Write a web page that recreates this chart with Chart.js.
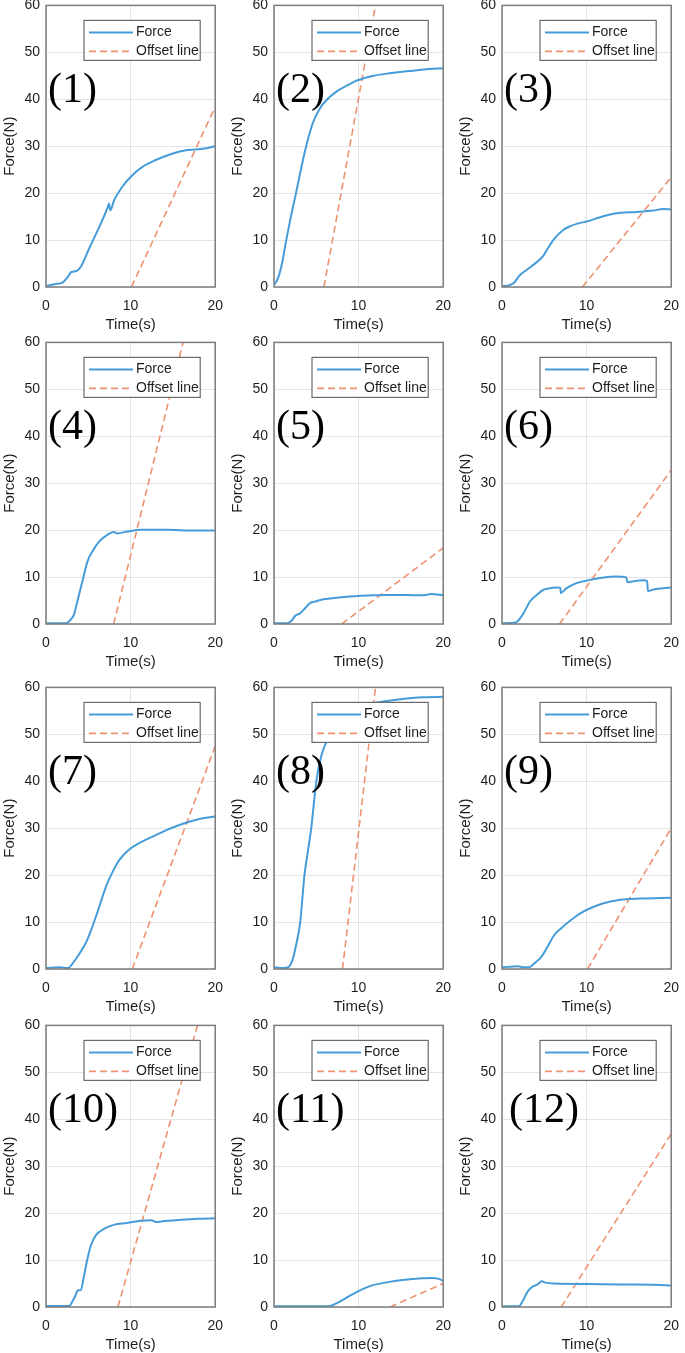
<!DOCTYPE html>
<html>
<head>
<meta charset="utf-8">
<title>Force vs time</title>
<script src="https://cdn.jsdelivr.net/npm/chart.js@4.4.0/dist/chart.umd.min.js"></script>
<style>
  body { margin: 0; background: #fff; width: 685px; height: 1353px; overflow: hidden; position: relative; }
  canvas { position: absolute; }
</style>
</head>
<body>
<script>
'use strict';

// ---- data ----
let seriesNames = ['Force', 'Offset line'];
let panelTags = ['(1)', '(2)', '(3)', '(4)', '(5)', '(6)', '(7)', '(8)', '(9)', '(10)', '(11)', '(12)'];
let xTicks = [0, 10, 20];
let yTicks = [0, 10, 20, 30, 40, 50, 60];

let time1 = [0, 1, 2, 2.6, 3.0, 3.6, 4.2, 5.1, 6.3, 7.3, 7.45, 7.6, 8.05, 9.0, 10.2, 11.4, 12.9, 14.9, 16.4, 17.6, 18.8, 20];
let force1 = [0.2, 0.6, 1.0, 2.2, 3.2, 3.4, 4.6, 8.2, 12.8, 17.0, 17.8, 16.3, 18.5, 21.3, 23.8, 25.6, 27.0, 28.4, 29.1, 29.3, 29.5, 30.0];

let time2 = [0, 0.5, 1.0, 1.45, 2.0, 2.6, 3.2, 3.8, 4.6, 5.4, 6.3, 7.5, 8.7, 9.8, 11.5, 13.5, 16.0, 18.0, 20];
let force2 = [0.4, 2.0, 5.5, 10.0, 15.0, 20.0, 25.2, 30.0, 35.0, 38.0, 40.0, 41.8, 43.0, 44.0, 44.9, 45.5, 46.0, 46.4, 46.6];

let time3 = [0, 0.8, 1.4, 2.1, 3.1, 4.1, 4.9, 5.4, 6.2, 7.2, 8.0, 8.9, 10.1, 11.3, 12.4, 14.0, 15.9, 17.9, 19.0, 20];
let force3 = [0.2, 0.35, 0.85, 2.5, 3.9, 5.3, 6.7, 8.2, 10.3, 12.1, 12.9, 13.5, 14.0, 14.7, 15.3, 15.8, 16.0, 16.3, 16.6, 16.5];

let time4 = [0, 2.35, 2.9, 3.3, 3.7, 4.3, 4.9, 5.5, 6.3, 7.25, 8.0, 8.4, 9.6, 11.2, 14.3, 17.5, 20];
let force4 = [0.15, 0.15, 0.9, 2.0, 4.8, 9.1, 13.3, 15.5, 17.6, 19.0, 19.6, 19.3, 19.7, 20.1, 20.1, 19.9, 19.9];

let time5 = [0, 1.4, 2.0, 2.55, 3.1, 3.7, 4.3, 4.9, 5.7, 6.9, 8.0, 9.6, 11.6, 13.5, 15.5, 17.5, 18.6, 20];
let force5 = [0.15, 0.15, 0.6, 1.8, 2.3, 3.4, 4.5, 4.8, 5.2, 5.5, 5.7, 5.9, 6.1, 6.2, 6.2, 6.1, 6.4, 6.1];

let time6 = [0, 1.6, 2.0, 2.55, 3.3, 4.1, 4.9, 5.3, 6.5, 6.9, 6.95, 7.6, 8.8, 10.4, 12.0, 13.5, 14.7, 14.8, 15.9, 16.7, 17.15, 17.25, 17.8, 20];
let force6 = [0.15, 0.3, 0.9, 2.3, 4.8, 6.2, 7.3, 7.5, 7.8, 7.7, 6.6, 7.6, 8.7, 9.4, 9.9, 10.1, 9.9, 8.9, 9.2, 9.3, 9.2, 7.0, 7.3, 7.8];

let time7 = [0, 1.6, 2.6, 3.2, 4.0, 4.8, 5.5, 6.3, 7.1, 7.9, 8.7, 9.8, 11.0, 12.6, 14.1, 16.1, 18.0, 20];
let force7 = [0.2, 0.35, 0.2, 1.3, 3.4, 5.9, 9.1, 13.3, 17.6, 20.8, 23.3, 25.4, 26.8, 28.2, 29.5, 30.9, 31.9, 32.5];

let time8 = [0, 1.05, 1.7, 2.2, 2.6, 3.1, 3.6, 4.0, 4.4, 5.0, 5.6, 6.5, 7.5, 9.0, 10.5, 12.6, 14.9, 17.5, 20];
let force8 = [0.4, 0.2, 0.4, 2.0, 5.0, 10.0, 20.0, 25.0, 30.0, 40.0, 45.5, 49.5, 52.0, 54.5, 56.0, 56.9, 57.5, 57.9, 58.0];

let time9 = [0, 1.9, 2.5, 3.1, 3.9, 4.7, 5.4, 6.2, 7.0, 8.2, 9.3, 10.5, 12.0, 14.0, 16.3, 20];
let force9 = [0.35, 0.6, 0.35, 0.35, 1.3, 2.7, 4.8, 7.3, 8.7, 10.5, 11.9, 13.0, 14.0, 14.75, 15.0, 15.2];

let time10 = [0, 2.75, 3.1, 3.5, 3.75, 4.1, 4.5, 4.9, 5.3, 5.9, 6.9, 8.0, 9.6, 11.2, 12.5, 13.0, 14.0, 16.0, 18.0, 20];
let force10 = [0.2, 0.2, 1.1, 2.5, 3.55, 3.6, 6.7, 10.3, 13.1, 15.3, 16.7, 17.5, 17.9, 18.4, 18.5, 18.1, 18.3, 18.6, 18.8, 18.9];

let time11 = [0, 6.5, 7.3, 8.4, 10.0, 11.6, 13.5, 15.5, 17.5, 18.7, 19.5, 20];
let force11 = [0.15, 0.15, 0.7, 1.8, 3.4, 4.6, 5.3, 5.8, 6.1, 6.2, 6.0, 5.6];

let time12 = [0, 2.0, 2.4, 3.0, 3.6, 4.2, 4.7, 5.1, 6.3, 10.2, 14.1, 18.0, 20];
let force12 = [0.15, 0.15, 1.1, 3.2, 4.3, 4.8, 5.5, 5.2, 5.0, 4.9, 4.8, 4.75, 4.6];

// offset line: leaves zero at offsetStart, ends at (offsetEndT, offsetEndF)
let offsetStart = [10.1, 5.9, 9.5, 8.0, 8.0, 6.8, 10.2, 8.1, 10.1, 8.5, 13.7, 7.0];
let offsetEndT = [20, 12.0, 20, 16.2, 20, 20, 20, 12.0, 20, 17.9, 20, 20];
let offsetEndF = [38.4, 60, 23.4, 60, 16.2, 32.8, 47.5, 60, 30.0, 60, 5.0, 36.9];

let times = [time1, time2, time3, time4, time5, time6, time7, time8, time9, time10, time11, time12];
let forces = [force1, force2, force3, force4, force5, force6, force7, force8, force9, force10, force11, force12];

// ---- layout ----
let colLeft = [0, 228, 456];
let rowTop = [-9, 328, 673, 1011];
let tagShift = [2, 2, 2, 2, 2, 2, 2, 2, 2, 2, 2, 7];

let textColor = '#1e1e1e';
let sans = 'Liberation Sans';

// frame, panel tag and boxed legend inside the axes
let panelDecor = {
    id: 'panelDecor',
    afterDatasetsDraw(chart, args, opts) {
        let ctx = chart.ctx;
        let a = chart.chartArea;
        ctx.save();
        ctx.strokeStyle = '#7c7c7c';
        ctx.lineWidth = 1.5;
        ctx.strokeRect(a.left, a.top, a.right - a.left, a.bottom - a.top);

        ctx.fillStyle = '#000';
        ctx.font = '42px "Liberation Serif"';
        ctx.textBaseline = 'alphabetic';
        ctx.textAlign = 'left';
        ctx.fillText(opts.tag, a.left + opts.shift, a.top + 97);

        let lx = a.left + 38;
        let ly = a.top + 15;
        let lw = a.right - 15 - lx;
        let lh = 40;
        ctx.fillStyle = '#fff';
        ctx.fillRect(lx, ly, lw, lh);
        ctx.strokeStyle = '#6a6a6a';
        ctx.lineWidth = 1.2;
        ctx.strokeRect(lx, ly, lw, lh);
        chart.data.datasets.forEach(function (ds, k) {
            let y = ly + 12 + k * 19;
            ctx.beginPath();
            ctx.setLineDash(ds.borderDash || []);
            ctx.strokeStyle = ds.borderColor;
            ctx.lineWidth = ds.borderWidth;
            ctx.moveTo(lx + 5, y);
            ctx.lineTo(lx + 49, y);
            ctx.stroke();
            ctx.setLineDash([]);
            ctx.fillStyle = textColor;
            ctx.font = '14px "' + sans + '"';
            ctx.textBaseline = 'middle';
            ctx.fillText(ds.label, lx + 52, y);
        });
        ctx.restore();
    }
};

function makePanel(i) {
    let canvas = document.createElement('canvas');
    canvas.width = 234;
    canvas.height = 348;
    canvas.style.left = colLeft[i % 3] + 'px';
    canvas.style.top = rowTop[Math.floor(i / 3)] + 'px';
    document.body.appendChild(canvas);

    let forcePts = times[i].map(function (t, k) { return { x: t, y: forces[i][k] }; });
    let offsetPts = [{ x: offsetStart[i], y: 0 }, { x: offsetEndT[i], y: offsetEndF[i] }];

    new Chart(canvas.getContext('2d'), {
        type: 'line',
        data: {
            datasets: [{
                label: seriesNames[0],
                data: forcePts,
                borderColor: 'rgb(70,156,216)',
                borderWidth: 2,
                pointRadius: 0,
                cubicInterpolationMode: 'monotone'
            }, {
                label: seriesNames[1],
                data: offsetPts,
                borderColor: 'rgb(238,146,112)',
                borderWidth: 1.6,
                borderDash: [7, 4],
                pointRadius: 0
            }]
        },
        options: {
            responsive: false,
            animation: false,
            devicePixelRatio: 1,
            layout: { padding: { top: 9, right: 12, left: 0, bottom: 0 } },
            plugins: {
                legend: { display: false },
                tooltip: { enabled: false },
                panelDecor: { tag: panelTags[i], shift: tagShift[i] }
            },
            scales: {
                x: {
                    type: 'linear',
                    min: xTicks[0],
                    max: xTicks[xTicks.length - 1],
                    afterBuildTicks: function (s) { s.ticks = xTicks.map(function (v) { return { value: v }; }); },
                    afterFit: function (s) { s.height = 52; },
                    ticks: { padding: 11, color: textColor, maxRotation: 0, font: { family: sans, size: 14 } },
                    grid: { color: '#e4e4e4', drawTicks: false },
                    border: { display: false },
                    title: {
                        display: true, text: 'Time(s)', color: textColor,
                        font: { family: sans, size: 15 }, padding: { top: 0, bottom: 5 }
                    }
                },
                y: {
                    min: yTicks[0],
                    max: yTicks[yTicks.length - 1],
                    afterBuildTicks: function (s) { s.ticks = yTicks.map(function (v) { return { value: v }; }); },
                    afterFit: function (s) { s.width = 46; },
                    ticks: { padding: 6, color: textColor, font: { family: sans, size: 14 } },
                    grid: { color: '#e4e4e4', drawTicks: false },
                    border: { display: false },
                    title: {
                        display: true, text: 'Force(N)', color: textColor,
                        font: { family: sans, size: 15 }, padding: { top: 1, bottom: 0 }
                    }
                }
            }
        },
        plugins: [panelDecor]
    });
}

for (let i = 0; i < 12; i++) {
    makePanel(i);
}
</script>
</body>
</html>
